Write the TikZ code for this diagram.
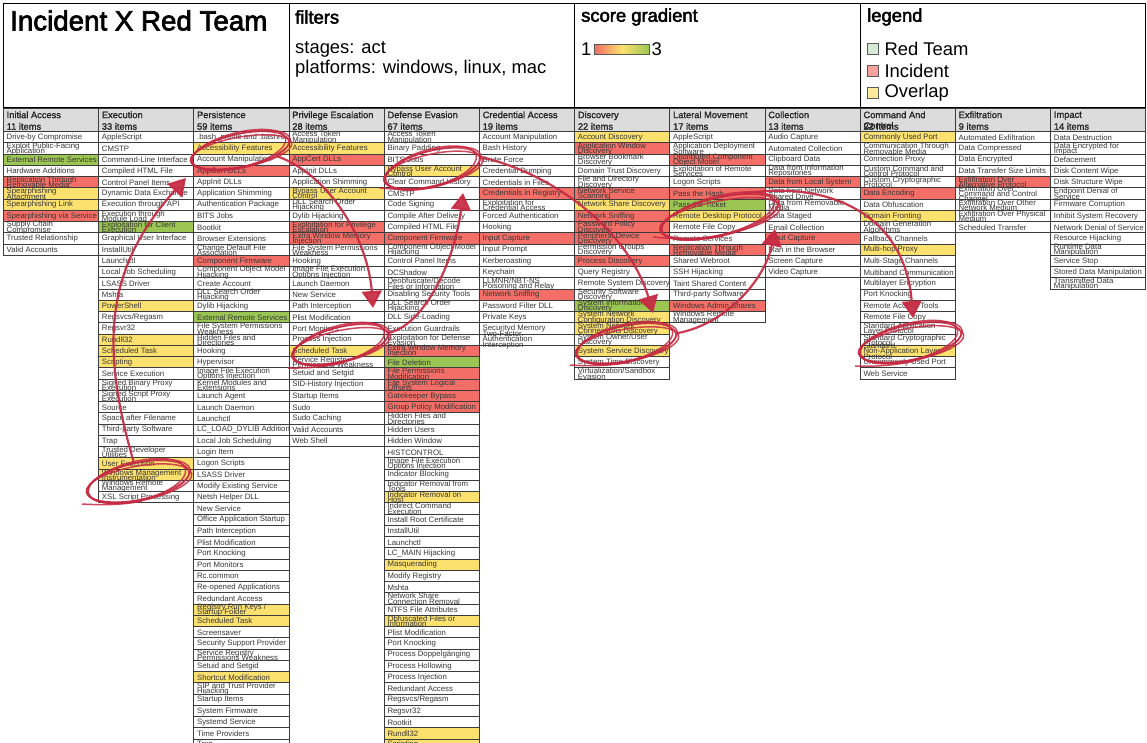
\documentclass[tikz,border=0pt]{standalone}
\usepackage{fontspec}
\setmainfont{Liberation Sans}
\newfontface\medfont{Liberation Sans}[FakeBold=2.5]
\newfontface\headfont{Liberation Sans}[FakeBold=1.5]
\usepackage{xcolor}
\usetikzlibrary{arrows.meta,positioning,shapes.geometric}
\usetikzlibrary{calc}

\definecolor{celln}{HTML}{FFFFFF}
\definecolor{cellr}{HTML}{F26E66}
\definecolor{celly}{HTML}{FCE16F}
\definecolor{cellg}{HTML}{9BC653}
\definecolor{headgray}{HTML}{DCDCDC}
\definecolor{gridgray}{HTML}{3C3C3C}
\definecolor{redpen}{HTML}{C62A42}
\newcommand{\cellfont}{\fontsize{7.8}{5.2}\selectfont\lineskiplimit=-20pt\relax}

% one column of the matrix: name, left edge, title, item count, cells
\newcommand{\techcol}[5]{
    \node[headbox] (#1-head) at (#2,108) {};
    \node[headtext] (#1-title) at ({#2+3},111.2) {#3};
    \node[itemtext] (#1-count) at ({#2+3},126.4) {#4 items};
    \foreach \tcol/\tname [count=\rownum from 0] in {#5} {
        \node[cellbox, fill=cell\tcol] (#1-\rownum) at (#2,{131.5+\rownum*11.25}) {};
    }
    \foreach \tcol/\tname [count=\rownum from 0] in {#5} {
        \node[celltext] (#1-\rownum-txt) at ($(#1-\rownum.west)+(3,0.3)$) {\tname};
    }
}

% hand drawn loop: name, centre, width, height, angle
\newcommand{\redloop}[5]{
    \node[looppen, minimum width=#3pt, minimum height=#4pt, rotate=#5] (#1) at (#2) {};
    \node[looppen, minimum width=#3pt+3pt, minimum height=#4pt-4pt, rotate=#5-2] (#1-b) at ($(#2)+(1,1)$) {};
    \node[looppen, minimum width=#3pt-4pt, minimum height=#4pt+1pt, rotate=#5+2] (#1-c) at ($(#2)+(-1,-1)$) {};
    \node[looppen, minimum width=#3pt+1pt, minimum height=#4pt-1pt, rotate=#5+1] (#1-d) at ($(#2)+(1,-1)$) {};
}

\begin{document}
\begin{tikzpicture}[
    x=1pt, y=-1pt,
    panel/.style={draw=black, line width=1pt, anchor=north west, inner sep=0pt, outer sep=0pt,
        minimum width=285.6pt, minimum height=103.7pt},
    paneltitle/.style={anchor=west, inner sep=0pt, font=\fontsize{18.4}{20}\medfont},
    paneltext/.style={anchor=west, inner sep=0pt, font=\fontsize{18.4}{20}\selectfont},
    legendbox/.style={draw=black!65, line width=.8pt, minimum size=10.5pt, inner sep=0pt, anchor=west},
    headbox/.style={draw=gridgray, line width=1pt, fill=headgray, anchor=north west, inner sep=0pt, outer sep=0pt,
        minimum width=95.2pt, minimum height=23.5pt},
    headtext/.style={anchor=north west, inner sep=0pt, align=left, text=black!85,
        font=\fontsize{9.3}{10.6}\headfont},
    itemtext/.style={anchor=west, inner sep=0pt, text=black!85, font=\fontsize{9.3}{11}\headfont},
    cellbox/.style={draw=gridgray, line width=.9pt, anchor=north west, inner sep=0pt, outer sep=0pt,
        minimum width=95.2pt, minimum height=11.25pt},
    celltext/.style={anchor=west, inner sep=0pt, align=left, text=black!78, font=\cellfont},
    looppen/.style={draw=redpen, ellipse, line width=1.5pt, inner sep=0pt, opacity=.85},
    tailpen/.style={draw=redpen, line width=1.5pt, opacity=.85},
    redarrow/.style={draw=redpen, line width=2.2pt, opacity=.92, -{Triangle[length=17pt,width=20pt]}},
]
\useasboundingbox (0,0) rectangle (1147,742);

% ---------- Top panels ----------
\node[panel] (titlebox) at (3.5,3.5) {};
\node[panel, right=0pt of titlebox] (filterbox) {};
\node[panel, right=0pt of filterbox] (gradbox) {};
\node[panel, right=0pt of gradbox] (legendpanel) {};

\node[anchor=west, inner sep=0pt, font=\fontsize{27.7}{30}\medfont] (maintitle) at (10,20.5) {Incident X Red Team};
\node[paneltitle] (filterhead) at (295,17) {filters};
\node[paneltext] (stagetext) at (295,49.5) {stages: act};
\node[paneltext] (platformtext) at (295,69) {platforms: windows, linux, mac};

\node[paneltitle] (gradhead) at (581,17) {score gradient};
\node[paneltext] (gradlow) at (581,49) {1};
\node[draw=black!65, line width=.8pt, left color=cellr, right color=cellg, middle color=celly,
      minimum width=55pt, minimum height=10pt, inner sep=0pt, anchor=west, right=2.5pt of gradlow] (gradbar) {};
\node[paneltext, right=1.5pt of gradbar] (gradhigh) {3};

\node[paneltitle] (legendhead) at (867,17) {legend};
\node[legendbox, fill=green!30!gray!25!white] (redsq) at (867,49) {};
\node[legendbox, fill=cellr!65!white] (incsq) at (867,71) {};
\node[legendbox, fill=celly!70!white] (ovlsq) at (867,93) {};
\node[paneltext, right=6pt of redsq] (redlabel) {Red Team};
\node[paneltext, right=6pt of incsq] (inclabel) {Incident};
\node[paneltext, right=6pt of ovlsq] (ovllabel) {Overlap};

% ---------- Matrix columns ----------
\techcol{ia}{3.5}{Initial Access}{11}{
    n/Drive-by Compromise, n/Exploit Public-Facing\\Application, g/External Remote Services,
    n/Hardware Additions, r/Replication Through\\Removable Media, y/Spearphishing\\Attachment,
    y/Spearphishing Link, r/Spearphishing via Service, n/Supply Chain\\Compromise,
    n/Trusted Relationship, n/Valid Accounts}

\techcol{ex}{98.7}{Execution}{33}{
    n/AppleScript, n/CMSTP, n/Command-Line Interface, n/Compiled HTML File, n/Control Panel Items,
    n/Dynamic Data Exchange, n/Execution through API, n/Execution through\\Module Load,
    g/Exploitation for Client\\Execution, n/Graphical User Interface, n/InstallUtil, n/Launchctl,
    n/Local Job Scheduling, n/LSASS Driver, n/Mshta, y/PowerShell, n/{Regsvcs/Regasm}, n/Regsvr32,
    y/Rundll32, y/Scheduled Task, y/Scripting, n/Service Execution, n/Signed Binary Proxy\\Execution,
    n/Signed Script Proxy\\Execution, n/Source, n/Space after Filename, n/Third-party Software, n/Trap,
    n/Trusted Developer\\Utilities, y/User Execution, y/Windows Management\\Instrumentation,
    n/Windows Remote\\Management, n/XSL Script Processing}

\techcol{pe}{193.9}{Persistence}{59}{
    n/.bash\_profile and .bashrc, y/Accessibility Features, n/Account Manipulation, r/AppCert DLLs,
    n/AppInit DLLs, n/Application Shimming, n/Authentication Package, n/BITS Jobs, n/Bootkit,
    n/Browser Extensions, n/Change Default File\\Association, r/Component Firmware,
    n/Component Object Model\\Hijacking, n/Create Account, n/DLL Search Order\\Hijacking,
    n/Dylib Hijacking, g/External Remote Services, n/File System Permissions\\Weakness,
    n/Hidden Files and\\Directories, n/Hooking, n/Hypervisor, n/Image File Execution\\Options Injection,
    n/Kernel Modules and\\Extensions, n/Launch Agent, n/Launch Daemon, n/Launchctl,
    n/LC\_LOAD\_DYLIB Addition, n/Local Job Scheduling, n/Login Item, n/Logon Scripts, n/LSASS Driver,
    n/Modify Existing Service, n/Netsh Helper DLL, n/New Service, n/Office Application Startup,
    n/Path Interception, n/Plist Modification, n/Port Knocking, n/Port Monitors, n/Rc.common,
    n/Re-opened Applications, n/Redundant Access, y/{Registry Run Keys /\\Startup Folder},
    y/Scheduled Task, n/Screensaver, n/Security Support Provider,
    n/Service Registry\\Permissions Weakness, n/Setuid and Setgid, y/Shortcut Modification,
    n/SIP and Trust Provider\\Hijacking, n/Startup Items, n/System Firmware, n/Systemd Service,
    n/Time Providers, n/Trap}

\techcol{pr}{289.1}{Privilege Escalation}{28}{
    n/Access Token\\Manipulation, y/Accessibility Features, r/AppCert DLLs, n/AppInit DLLs,
    n/Application Shimming, y/Bypass User Account\\Control, n/DLL Search Order\\Hijacking,
    n/Dylib Hijacking, r/Exploitation for Privilege\\Escalation, r/Extra Window Memory\\Injection,
    n/File System Permissions\\Weakness, n/Hooking, n/Image File Execution\\Options Injection,
    n/Launch Daemon, n/New Service, n/Path Interception, n/Plist Modification, n/Port Monitors,
    n/Process Injection, y/Scheduled Task, n/Service Registry\\Permissions Weakness,
    n/Setuid and Setgid, n/SID-History Injection, n/Startup Items, n/Sudo, n/Sudo Caching,
    n/Valid Accounts, n/Web Shell}

\techcol{de}{384.3}{Defense Evasion}{67}{
    n/Access Token\\Manipulation, n/Binary Padding, n/BITS Jobs, y/Bypass User Account\\Control,
    n/Clear Command History, n/CMSTP, n/Code Signing, n/Compile After Delivery, n/Compiled HTML File,
    r/Component Firmware, n/Component Object Model\\Hijacking, n/Control Panel Items, n/DCShadow,
    n/{Deobfuscate/Decode\\Files or Information}, n/Disabling Security Tools,
    n/DLL Search Order\\Hijacking, n/DLL Side-Loading, n/Execution Guardrails,
    n/Exploitation for Defense\\Evasion, r/Extra Window Memory\\Injection, g/File Deletion,
    r/File Permissions\\Modification, r/File System Logical\\Offsets, r/Gatekeeper Bypass,
    r/Group Policy Modification, n/Hidden Files and\\Directories, n/Hidden Users, n/Hidden Window,
    n/HISTCONTROL, n/Image File Execution\\Options Injection, n/Indicator Blocking,
    n/Indicator Removal from\\Tools, y/Indicator Removal on\\Host, n/Indirect Command\\Execution,
    n/Install Root Certificate, n/InstallUtil, n/Launchctl, n/LC\_MAIN Hijacking, y/Masquerading,
    n/Modify Registry, n/Mshta, n/Network Share\\Connection Removal, n/NTFS File Attributes,
    y/Obfuscated Files or\\Information, n/Plist Modification, n/Port Knocking,
    n/Process Doppelgänging, n/Process Hollowing, n/Process Injection, n/Redundant Access,
    n/{Regsvcs/Regasm}, n/Regsvr32, n/Rootkit, y/Rundll32, y/Scripting}

\techcol{ca}{479.5}{Credential Access}{19}{
    n/Account Manipulation, n/Bash History, n/Brute Force, n/Credential Dumping,
    n/Credentials in Files, r/Credentials in Registry, n/Exploitation for\\Credential Access,
    n/Forced Authentication, n/Hooking, r/Input Capture, n/Input Prompt, n/Kerberoasting, n/Keychain,
    n/{LLMNR/NBT-NS\\Poisoning and Relay}, r/Network Sniffing, n/Password Filter DLL, n/Private Keys,
    n/Securityd Memory, n/Two-Factor\\Authentication\\Interception}

\techcol{di}{574.7}{Discovery}{22}{
    y/Account Discovery, r/Application Window\\Discovery, n/Browser Bookmark\\Discovery,
    n/Domain Trust Discovery, n/File and Directory\\Discovery, r/Network Service\\Scanning,
    y/Network Share Discovery, r/Network Sniffing, r/Password Policy\\Discovery,
    r/Peripheral Device\\Discovery, n/Permission Groups\\Discovery, r/Process Discovery,
    n/Query Registry, n/Remote System Discovery, n/Security Software\\Discovery,
    g/System Information\\Discovery, y/System Network\\Configuration Discovery,
    y/System Network\\Connections Discovery, n/{System Owner/User\\Discovery},
    y/System Service Discovery, n/System Time Discovery, n/{Virtualization/Sandbox\\Evasion}}

\techcol{lm}{669.9}{Lateral Movement}{17}{
    n/AppleScript, n/Application Deployment\\Software, r/Distributed Component\\Object Model,
    n/Exploitation of Remote\\Services, n/Logon Scripts, r/Pass the Hash, g/Pass the Ticket,
    y/Remote Desktop Protocol, n/Remote File Copy, n/Remote Services,
    r/Replication Through\\Removable Media, n/Shared Webroot, n/SSH Hijacking, n/Taint Shared Content,
    n/Third-party Software, r/Windows Admin Shares, n/Windows Remote\\Management}

\techcol{co}{765.1}{Collection}{13}{
    n/Audio Capture, n/Automated Collection, n/Clipboard Data, n/Data from Information\\Repositories,
    r/Data from Local System, n/Data from Network\\Shared Drive, n/Data from Removable\\Media,
    n/Data Staged, n/Email Collection, r/Input Capture, n/Man in the Browser, n/Screen Capture,
    n/Video Capture}

\techcol{cc}{860.3}{Command And\\Control}{22}{
    y/Commonly Used Port, n/Communication Through\\Removable Media, n/Connection Proxy,
    n/Custom Command and\\Control Protocol, n/Custom Cryptographic\\Protocol, r/Data Encoding,
    n/Data Obfuscation, y/Domain Fronting, n/Domain Generation\\Algorithms, n/Fallback Channels,
    y/Multi-hop Proxy, n/Multi-Stage Channels, n/Multiband Communication, n/Multilayer Encryption,
    n/Port Knocking, n/Remote Access Tools, n/Remote File Copy, n/Standard Application\\Layer Protocol,
    n/Standard Cryptographic\\Protocol, y/Standard\\Non-Application Layer\\Protocol,
    n/Uncommonly Used Port, n/Web Service}

\techcol{xf}{955.5}{Exfiltration}{9}{
    n/Automated Exfiltration, n/Data Compressed, n/Data Encrypted, n/Data Transfer Size Limits,
    r/Exfiltration Over\\Alternative Protocol, n/Exfiltration Over\\Command and Control\\Channel,
    n/Exfiltration Over Other\\Network Medium, n/Exfiltration Over Physical\\Medium,
    n/Scheduled Transfer}

\techcol{im}{1050.7}{Impact}{14}{
    n/Data Destruction, n/Data Encrypted for\\Impact, n/Defacement, n/Disk Content Wipe,
    n/Disk Structure Wipe, n/Endpoint Denial of\\Service, n/Firmware Corruption,
    n/Inhibit System Recovery, n/Network Denial of Service, n/Resource Hijacking,
    n/Runtime Data\\Manipulation, n/Service Stop, n/Stored Data Manipulation,
    n/Transmitted Data\\Manipulation}

% ---------- Red loops ----------
\redloop{loopA}{138,482}{104}{38}{12}
\redloop{loopB}{240,151}{100}{34}{12}
\redloop{loopC}{340,345}{98}{35}{14}
\redloop{loopD}{432,169}{98}{36}{14}
\redloop{loopE}{626,344}{102}{36}{12}
\redloop{loopF}{719,217}{120}{38}{13}
\redloop{loopG}{910,343}{104}{36}{12}

% loose ends of the loops
\coordinate (tailA) at (82,504);
\coordinate (tailC) at (288,368);
\coordinate (tailD) at (380,188);
\coordinate (tailE) at (570,365);
\coordinate (tailF) at (653,237);
\coordinate (tailG) at (855,366);
\draw[tailpen] (loopA.south) to[bend left=6] (tailA);
\draw[tailpen] (loopC.south) to[bend left=6] (tailC);
\draw[tailpen] (loopD.south) to[bend left=6] (tailD);
\draw[tailpen] (loopE.south) to[bend left=6] (tailE);
\draw[tailpen] (loopF.south) to[bend left=6] (tailF);
\draw[tailpen] (loopG.south) to[bend left=6] (tailG);

% ---------- Red arrows ----------
\coordinate (headB) at (186,178);
\coordinate (headC) at (373,308);
\coordinate (headD) at (463,193);
\coordinate (headE) at (653,313);
\coordinate (headF) at (775,229);
\coordinate (headG) at (913,318);

\draw[redarrow] (loopA.north) .. controls (98,340) and (108,265) .. (headB);
\draw[redarrow] (loopB.-20) .. controls (330,175) and (368,240) .. (headC);
\draw[redarrow] (loopC.east) .. controls (425,325) and (455,260) .. (headD);
\draw[redarrow] (loopD.east) .. controls (560,175) and (630,235) .. (headE);
\draw[redarrow] (loopE.east) .. controls (725,325) and (765,280) .. (headF);
\draw[redarrow] (loopF.30) .. controls (830,180) and (905,215) .. (headG);

\end{tikzpicture}
\end{document}
